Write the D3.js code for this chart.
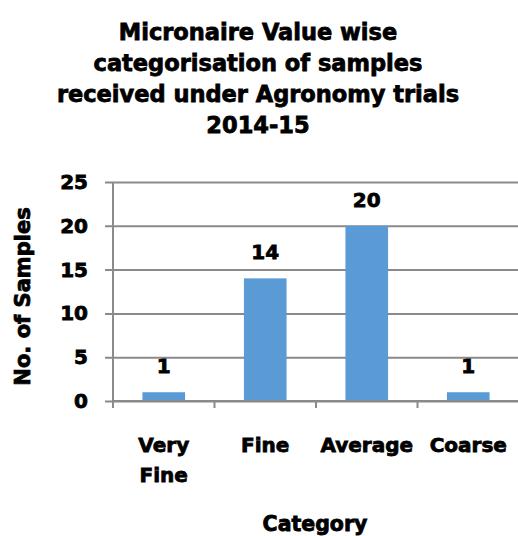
<!DOCTYPE html>
<html>
<head>
<meta charset="utf-8">
<script src="https://cdn.jsdelivr.net/npm/d3@7"></script>
<style>
  html, body { margin: 0; padding: 0; background: #fff; }
  svg { display: block; font-family: "DejaVu Sans", sans-serif; font-weight: bold; }
  svg text { fill: #000; stroke: #000; stroke-width: 0.8px; }
</style>
</head>
<body>
<svg id="chart" width="518" height="536"></svg>
<script>
// --- Data ---
const titleLines = ['Micronaire Value wise', 'categorisation of samples', 'received under Agronomy trials', '2014-15'];
const categories = ['Very Fine', 'Fine', 'Average', 'Coarse'];
const samples = [1, 14, 20, 1];
const yTicks = [0, 5, 10, 15, 20, 25];
const yLabel = 'No. of Samples';
const xLabel = 'Category';

const svg = d3.select('#chart');
const W = 518;
const plotLeft = 113, plotRight = 519, plotTop = 182, plotBottom = 401;
const gridColor = '#8a8a8a';
const barColor = '#5b9bd5';

// --- Scales ---
const x = d3.scaleBand()
  .domain(categories)
  .range([plotLeft, plotRight])
  .paddingInner(0.58)
  .paddingOuter(0.29);

const y = d3.scaleLinear()
  .domain([0, 25])
  .range([plotBottom, plotTop]);

// --- Title ---
svg.append('text')
  .attr('x', 258)
  .attr('text-anchor', 'middle')
  .style('font-size', '22.5px')
  .selectAll('tspan')
  .data(titleLines)
  .join('tspan')
  .attr('x', 258)
  .attr('y', (d, i) => 40 + i * 31)
  .text(d => d);

// --- Gridlines + y tick labels ---
const yAxis = svg.append('g')
  .attr('transform', `translate(105,0)`)
  .call(d3.axisLeft(y).tickValues(yTicks).tickSize(-(W - 105)).tickPadding(17));
yAxis.select('.domain').remove();
yAxis.selectAll('.tick line').attr('stroke', gridColor).attr('stroke-width', 2);
yAxis.selectAll('.tick text')
  .attr('fill', '#000')
  .style('font-size', '20px')
  .style('font-family', '"DejaVu Sans", sans-serif')
  .style('font-weight', 'bold');

// vertical axis line
svg.append('line')
  .attr('x1', plotLeft).attr('x2', plotLeft)
  .attr('y1', y(25)).attr('y2', plotBottom + 7)
  .attr('stroke', gridColor).attr('stroke-width', 2);

// category boundary ticks
const step = x.step();
const bounds = categories.map(c => x(c) - step * x.paddingOuter());
svg.append('g')
  .selectAll('line')
  .data(bounds)
  .join('line')
  .attr('x1', d => d).attr('x2', d => d)
  .attr('y1', plotBottom).attr('y2', plotBottom + 7)
  .attr('stroke', gridColor).attr('stroke-width', 2);

// --- Bars ---
svg.append('g')
  .selectAll('rect')
  .data(samples)
  .join('rect')
  .attr('x', (d, i) => x(categories[i]))
  .attr('y', d => y(d))
  .attr('width', x.bandwidth())
  .attr('height', d => y(0) - y(d))
  .attr('fill', barColor);

// baseline over bars
svg.append('line')
  .attr('x1', plotLeft).attr('x2', W)
  .attr('y1', plotBottom).attr('y2', plotBottom)
  .attr('stroke', gridColor).attr('stroke-width', 2);

// --- Data labels ---
svg.append('g')
  .selectAll('text')
  .data(samples)
  .join('text')
  .attr('x', (d, i) => x(categories[i]) + x.bandwidth() / 2)
  .attr('y', d => y(d) - 19)
  .attr('text-anchor', 'middle')
  .style('font-size', '20px')
  .text(d => d);

// --- Category labels (wrapped to band width) ---
const xAxis = svg.append('g')
  .attr('transform', `translate(0,${plotBottom})`)
  .call(d3.axisBottom(x).tickSize(0).tickPadding(0));
xAxis.select('.domain').remove();
xAxis.selectAll('.tick text')
  .attr('fill', '#000')
  .attr('y', 0)
  .attr('dy', null)
  .style('font-size', '20px')
  .style('font-family', '"DejaVu Sans", sans-serif')
  .style('font-weight', 'bold')
  .each(function (d) {
    const t = d3.select(this);
    const words = d.split(' ');
    t.text(null);
    let line = [];
    let lineNo = 0;
    let tspan = t.append('tspan').attr('x', 0).attr('y', 51);
    for (const w of words) {
      line.push(w);
      tspan.text(line.join(' '));
      if (tspan.node().getComputedTextLength() > step && line.length > 1) {
        line.pop();
        tspan.text(line.join(' '));
        line = [w];
        lineNo++;
        tspan = t.append('tspan').attr('x', 0).attr('y', 51 + lineNo * 30).text(w);
      }
    }
  });

// --- Axis titles ---
svg.append('text')
  .attr('transform', `translate(23,${(plotTop + plotBottom) / 2 + 5}) rotate(-90)`)
  .attr('text-anchor', 'middle')
  .attr('dy', '0.35em')
  .style('font-size', '21px')
  .text(yLabel);

svg.append('text')
  .attr('x', 315)
  .attr('y', 531)
  .attr('text-anchor', 'middle')
  .style('font-size', '20.5px')
  .text(xLabel);
</script>
</body>
</html>
